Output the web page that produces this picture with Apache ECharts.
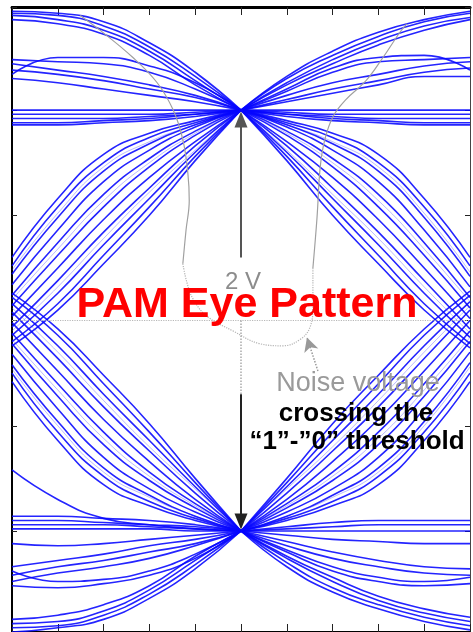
<!DOCTYPE html>
<html>
<head>
<meta charset="utf-8">
<script src="https://cdn.jsdelivr.net/npm/echarts@6/dist/echarts.min.js"></script>
<style>
  html, body { margin: 0; padding: 0; background: #fff; }
  #chart { width: 473px; height: 632px; }
</style>
</head>
<body>
<div id="chart"></div>
<script>
// Time axis: one unit interval split in 10 steps, sampling instant at 5.
const xTicks = [0, 1, 2, 3, 4, 5, 6, 7, 8, 9, 10];
const leftX = [0, 1, 2, 3, 4, 5];
const rightX = [5, 6, 7, 8, 9, 10];

// Voltage of each trace (V) at leftX, ending on the "1" level (+1 V)
const upperLeftOvershoot = [
  [1.47, 1.46, 1.42, 1.32, 1.18, 1.0],
  [1.46, 1.45, 1.40, 1.30, 1.16, 1.0],
  [1.45, 1.43, 1.38, 1.28, 1.14, 1.0],
  [1.43, 1.41, 1.36, 1.26, 1.12, 1.0]
];
const upperLeftLens = [
  [1.17, 1.25, 1.25, 1.21, 1.13, 1.0],
  [1.24, 1.23, 1.22, 1.18, 1.10, 1.0],
  [1.22, 1.19, 1.16, 1.12, 1.07, 1.0],
  [1.19, 1.17, 1.14, 1.10, 1.06, 1.0],
  [1.15, 1.13, 1.10, 1.07, 1.04, 1.0]
];
const upperLeftFlat = [
  [1.00, 1.00, 1.00, 1.00, 1.00, 1.0],
  [0.98, 0.98, 0.98, 0.98, 0.99, 1.0],
  [0.96, 0.96, 0.96, 0.97, 0.98, 1.0],
  [0.94, 0.94, 0.95, 0.96, 0.98, 1.0],
  [0.93, 0.93, 0.94, 0.95, 0.97, 1.0]
];
const upperLeftRise = [
  [0.30, 0.58, 0.79, 0.89, 0.95, 1.0],
  [0.26, 0.54, 0.75, 0.87, 0.94, 1.0],
  [0.22, 0.49, 0.71, 0.84, 0.93, 1.0],
  [0.17, 0.43, 0.66, 0.81, 0.92, 1.0],
  [0.12, 0.37, 0.60, 0.77, 0.90, 1.0],
  [0.07, 0.31, 0.54, 0.73, 0.88, 1.0],
  [0.02, 0.25, 0.48, 0.68, 0.85, 1.0],
  [-0.03, 0.19, 0.42, 0.63, 0.83, 1.0],
  [-0.07, 0.13, 0.36, 0.58, 0.80, 1.0],
  [-0.10, 0.08, 0.31, 0.54, 0.78, 1.0],
  [-0.12, 0.05, 0.27, 0.50, 0.76, 1.0]
];
const upperLeftRiseFaint = [
  [0.10, 0.34, 0.57, 0.75, 0.89, 1.0],
  [-0.05, 0.16, 0.39, 0.61, 0.81, 1.0],
  [0.24, 0.51, 0.73, 0.85, 0.93, 1.0]
];

// Traces at leftX ending on the "0" level (-1 V)
const lowerLeftUndershoot = [
  [-1.48, -1.46, -1.42, -1.32, -1.18, -1.0],
  [-1.46, -1.45, -1.40, -1.30, -1.16, -1.0],
  [-1.44, -1.43, -1.38, -1.28, -1.14, -1.0],
  [-1.42, -1.40, -1.35, -1.26, -1.12, -1.0]
];
const lowerLeftLens = [
  [-1.26, -1.27, -1.25, -1.21, -1.13, -1.0],
  [-1.19, -1.24, -1.23, -1.19, -1.11, -1.0],
  [-1.24, -1.20, -1.17, -1.13, -1.07, -1.0],
  [-1.21, -1.17, -1.14, -1.10, -1.06, -1.0],
  [-1.17, -1.14, -1.11, -1.07, -1.04, -1.0]
];
const lowerLeftFlat = [
  [-0.71, -0.85, -0.94, -0.97, -0.99, -1.0],
  [-0.93, -0.93, -0.94, -0.95, -0.97, -1.0],
  [-0.95, -0.95, -0.96, -0.97, -0.98, -1.0],
  [-0.97, -0.97, -0.97, -0.98, -0.99, -1.0],
  [-0.99, -0.99, -0.99, -0.99, -1.00, -1.0],
  [-1.06, -1.07, -1.06, -1.04, -1.02, -1.0]
];
const lowerLeftFall = [
  [-0.29, -0.57, -0.78, -0.88, -0.95, -1.0],
  [-0.25, -0.53, -0.74, -0.86, -0.94, -1.0],
  [-0.21, -0.48, -0.70, -0.83, -0.93, -1.0],
  [-0.16, -0.42, -0.65, -0.80, -0.91, -1.0],
  [-0.11, -0.36, -0.59, -0.76, -0.89, -1.0],
  [-0.06, -0.30, -0.53, -0.72, -0.87, -1.0],
  [-0.01, -0.24, -0.47, -0.67, -0.85, -1.0],
  [0.04, -0.18, -0.41, -0.62, -0.82, -1.0],
  [0.08, -0.12, -0.35, -0.57, -0.79, -1.0],
  [0.11, -0.07, -0.30, -0.53, -0.77, -1.0],
  [0.13, -0.04, -0.26, -0.49, -0.75, -1.0]
];
const lowerLeftFallFaint = [
  [-0.09, -0.33, -0.56, -0.74, -0.88, -1.0],
  [0.06, -0.15, -0.38, -0.60, -0.80, -1.0],
  [-0.23, -0.50, -0.72, -0.84, -0.93, -1.0]
];

// Traces at rightX starting on the "1" level
const upperRightOvershoot = [
  [1.0, 1.16, 1.28, 1.37, 1.43, 1.47],
  [1.0, 1.15, 1.26, 1.35, 1.42, 1.46],
  [1.0, 1.13, 1.24, 1.33, 1.40, 1.44],
  [1.0, 1.12, 1.22, 1.31, 1.38, 1.43]
];
const upperRightLens = [
  [1.0, 1.10, 1.20, 1.25, 1.26, 1.19],
  [1.0, 1.09, 1.18, 1.23, 1.24, 1.25],
  [1.0, 1.07, 1.13, 1.17, 1.21, 1.23],
  [1.0, 1.05, 1.10, 1.14, 1.18, 1.20],
  [1.0, 1.04, 1.08, 1.12, 1.16, 1.16]
];
const upperRightFlat = [
  [1.0, 1.00, 1.00, 1.00, 1.00, 1.00],
  [1.0, 0.99, 0.98, 0.98, 0.98, 0.98],
  [1.0, 0.98, 0.97, 0.96, 0.96, 0.96],
  [1.0, 0.98, 0.96, 0.95, 0.94, 0.94],
  [1.0, 0.97, 0.95, 0.94, 0.93, 0.93]
];
const upperRightFall = [
  [1.0, 0.95, 0.89, 0.79, 0.58, 0.30],
  [1.0, 0.94, 0.87, 0.75, 0.54, 0.26],
  [1.0, 0.93, 0.84, 0.71, 0.49, 0.21],
  [1.0, 0.92, 0.81, 0.66, 0.43, 0.16],
  [1.0, 0.90, 0.77, 0.60, 0.37, 0.11],
  [1.0, 0.88, 0.73, 0.54, 0.31, 0.06],
  [1.0, 0.85, 0.68, 0.48, 0.25, 0.01],
  [1.0, 0.83, 0.63, 0.42, 0.19, -0.04],
  [1.0, 0.80, 0.58, 0.36, 0.13, -0.08],
  [1.0, 0.78, 0.54, 0.31, 0.08, -0.11],
  [1.0, 0.76, 0.50, 0.27, 0.05, -0.13]
];
const upperRightFallFaint = [
  [1.0, 0.89, 0.75, 0.57, 0.34, 0.09],
  [1.0, 0.81, 0.60, 0.39, 0.16, -0.06],
  [1.0, 0.93, 0.85, 0.73, 0.51, 0.23]
];

// Traces at rightX starting on the "0" level
const lowerRightUndershoot = [
  [-1.0, -1.17, -1.29, -1.37, -1.43, -1.47],
  [-1.0, -1.15, -1.27, -1.35, -1.41, -1.45],
  [-1.0, -1.13, -1.24, -1.33, -1.39, -1.43],
  [-1.0, -1.12, -1.22, -1.31, -1.37, -1.41]
];
const lowerRightLens = [
  [-1.0, -1.10, -1.19, -1.24, -1.26, -1.25],
  [-1.0, -1.09, -1.17, -1.22, -1.24, -1.22],
  [-1.0, -1.07, -1.13, -1.17, -1.20, -1.21],
  [-1.0, -1.05, -1.10, -1.14, -1.17, -1.18]
];
const lowerRightFlat = [
  [-1.0, -1.00, -1.00, -1.00, -1.00, -1.00],
  [-1.0, -0.99, -0.98, -0.97, -0.97, -0.97],
  [-1.0, -0.98, -0.96, -0.95, -0.95, -0.95],
  [-1.0, -1.02, -1.04, -1.05, -1.06, -1.06]
];
const lowerRightRise = [
  [-1.0, -0.95, -0.88, -0.78, -0.57, -0.29],
  [-1.0, -0.94, -0.86, -0.74, -0.53, -0.25],
  [-1.0, -0.93, -0.83, -0.70, -0.48, -0.20],
  [-1.0, -0.91, -0.80, -0.65, -0.42, -0.15],
  [-1.0, -0.89, -0.76, -0.59, -0.36, -0.10],
  [-1.0, -0.87, -0.72, -0.53, -0.30, -0.05],
  [-1.0, -0.85, -0.67, -0.47, -0.24, 0.00],
  [-1.0, -0.82, -0.62, -0.41, -0.18, 0.05],
  [-1.0, -0.79, -0.57, -0.35, -0.12, 0.09],
  [-1.0, -0.77, -0.53, -0.30, -0.07, 0.12],
  [-1.0, -0.75, -0.49, -0.26, -0.04, 0.14]
];
const lowerRightRiseFaint = [
  [-1.0, -0.88, -0.74, -0.56, -0.33, -0.08],
  [-1.0, -0.80, -0.60, -0.38, -0.15, 0.07],
  [-1.0, -0.93, -0.84, -0.72, -0.50, -0.22]
];

// Noise-voltage contour (time, volts)
const noiseUpperLeft = [[1.49, 1.45], [1.92, 1.38], [2.64, 1.25], [3.17, 1.13], [3.52, 1.00], [3.73, 0.86], [3.84, 0.70], [3.87, 0.57], [3.80, 0.43], [3.73, 0.27]];
const noiseThreshold = [[3.73, 0.27], [3.82, 0.18], [3.96, 0.10], [4.26, 0.02], [4.83, -0.05], [5.41, -0.11], [5.92, -0.12], [6.29, -0.09], [6.51, -0.03], [6.57, 0.07], [6.57, 0.25]];
const noiseUpperRight = [[6.57, 0.25], [6.66, 0.49], [6.73, 0.73], [6.83, 0.86], [7.01, 0.97], [7.29, 1.05], [7.73, 1.14], [8.10, 1.25], [8.47, 1.37], [8.62, 1.41]];

const levelHigh = 1;      // "1" level, V
const levelLow = -1;      // "0" level, V
const threshold = 0;      // "1"-"0" decision threshold, V
const sampleTime = 5;

const traceStyle = { color: '#0606ff', width: 1.6, opacity: 0.88 };
const faintStyle = { color: '#3a3aff', width: 1, opacity: 0.35 };

function traceSeries(xs, rows, style) {
  return rows.map(vals => ({
    type: 'line',
    data: xs.map((x, i) => [x, vals[i]]),
    smooth: 0.5,
    showSymbol: false,
    silent: true,
    lineStyle: style || traceStyle,
    z: 2
  }));
}

const series = [].concat(
  traceSeries(leftX, upperLeftRiseFaint, faintStyle),
  traceSeries(leftX, lowerLeftFallFaint, faintStyle),
  traceSeries(rightX, upperRightFallFaint, faintStyle),
  traceSeries(rightX, lowerRightRiseFaint, faintStyle),
  traceSeries(leftX, upperLeftOvershoot),
  traceSeries(leftX, upperLeftLens),
  traceSeries(leftX, upperLeftFlat),
  traceSeries(leftX, upperLeftRise),
  traceSeries(leftX, lowerLeftUndershoot),
  traceSeries(leftX, lowerLeftLens),
  traceSeries(leftX, lowerLeftFlat),
  traceSeries(leftX, lowerLeftFall),
  traceSeries(rightX, upperRightOvershoot),
  traceSeries(rightX, upperRightLens),
  traceSeries(rightX, upperRightFlat),
  traceSeries(rightX, upperRightFall),
  traceSeries(rightX, lowerRightUndershoot),
  traceSeries(rightX, lowerRightLens),
  traceSeries(rightX, lowerRightFlat),
  traceSeries(rightX, lowerRightRise)
);

// noise contour
series.push({
  type: 'line', data: noiseUpperLeft, smooth: 0.4, showSymbol: false, silent: true, z: 3,
  lineStyle: { color: '#a0a0a0', width: 1.2 }
});
series.push({
  type: 'line', data: noiseThreshold, smooth: 0.4, showSymbol: false, silent: true, z: 3,
  lineStyle: { color: '#b4b4b4', width: 1.2, type: 'dotted' }
});
series.push({
  type: 'line', data: noiseUpperRight, smooth: 0.4, showSymbol: false, silent: true, z: 3,
  lineStyle: { color: '#a0a0a0', width: 1.2 }
});

// threshold line, 2 V arrow, noise pointer
series.push({
  type: 'line', data: [], silent: true, z: 4,
  markLine: {
    silent: true,
    animation: false,
    label: { show: false },
    data: [
      [
        { coord: [0, threshold], symbol: 'none', lineStyle: { color: '#b8b8b8', width: 1.2, type: 'dotted' } },
        { coord: [10, threshold], symbol: 'none' }
      ],
      [
        { coord: [sampleTime, 0.30], symbol: 'none', lineStyle: { color: '#555', width: 2, type: 'solid' } },
        { coord: [sampleTime, levelHigh - 0.045], symbol: 'triangle', symbolSize: [13, 16], itemStyle: { color: '#000' } }
      ],
      [
        { coord: [sampleTime, 0.0], symbol: 'none', lineStyle: { color: '#aaa', width: 1.5, type: 'dotted' } },
        { coord: [sampleTime, -0.35], symbol: 'none' }
      ],
      [
        { coord: [sampleTime, -0.35], symbol: 'none', lineStyle: { color: '#222', width: 2, type: 'solid' } },
        { coord: [sampleTime, levelLow + 0.045], symbol: 'triangle', symbolSize: [13, 16], itemStyle: { color: '#000' } }
      ],
      [
        { coord: [6.68, -0.24], symbol: 'none', lineStyle: { color: '#999', width: 1.5, type: 'dotted' } },
        { coord: [6.44, -0.08], symbol: 'arrow', symbolSize: [11, 14], itemStyle: { color: '#999' } }
      ]
    ]
  }
});

const chart = echarts.init(document.getElementById('chart'), null, { renderer: 'canvas' });
const tickStyle = { color: '#222', width: 1 };
chart.setOption({
  animation: false,
  backgroundColor: '#fff',
  grid: { left: 12, top: 7, width: 458, height: 627 },
  xAxis: [
    {
      type: 'value', min: 0, max: 10, interval: 1, position: 'bottom',
      axisLine: { show: true, onZero: false, lineStyle: { color: '#000', width: 2 } },
      axisTick: { show: true, inside: true, length: 8, lineStyle: tickStyle },
      axisLabel: { show: false }, splitLine: { show: false }
    },
    {
      type: 'value', min: 0, max: 10, interval: 1, position: 'top',
      axisLine: { show: true, onZero: false, lineStyle: { color: '#000', width: 3 } },
      axisTick: { show: true, inside: true, length: 8, lineStyle: tickStyle },
      axisLabel: { show: false }, splitLine: { show: false }
    }
  ],
  yAxis: [
    {
      type: 'value', min: -1.48, max: 1.49, splitNumber: 6, position: 'left',
      axisLine: { show: true, onZero: false, lineStyle: { color: '#000', width: 2 } },
      axisTick: { show: true, inside: true, length: 5, lineStyle: tickStyle },
      axisLabel: { show: false }, splitLine: { show: false }
    },
    {
      type: 'value', min: -1.48, max: 1.49, splitNumber: 6, position: 'right',
      axisLine: { show: true, onZero: false, lineStyle: { color: '#444', width: 1 } },
      axisTick: { show: true, inside: true, length: 5, lineStyle: tickStyle },
      axisLabel: { show: false }, splitLine: { show: false }
    }
  ],
  series: series,
  graphic: [
    { type: 'text', x: 243, y: 282, z: 10, style: { text: '2 V', font: '24px "Liberation Sans", Arial, sans-serif', fill: '#8c8c8c', align: 'center', verticalAlign: 'middle' } },
    { type: 'text', x: 247, y: 305, z: 10, style: { text: 'PAM Eye Pattern', font: 'bold 43px "Liberation Sans", Arial, sans-serif', fill: '#ff0000', align: 'center', verticalAlign: 'middle' } },
    { type: 'text', x: 358, y: 384, z: 10, style: { text: 'Noise voltage', font: '27px "Liberation Sans", Arial, sans-serif', fill: '#9a9a9a', align: 'center', verticalAlign: 'middle' } },
    { type: 'text', x: 356, y: 414, z: 10, style: { text: 'crossing the', font: 'bold 26px "Liberation Sans", Arial, sans-serif', fill: '#000', align: 'center', verticalAlign: 'middle' } },
    { type: 'text', x: 357, y: 442, z: 10, style: { text: '\u201c1\u201d-\u201d0\u201d threshold', font: 'bold 26px "Liberation Sans", Arial, sans-serif', fill: '#000', align: 'center', verticalAlign: 'middle' } }
  ]
});
</script>
</body>
</html>
